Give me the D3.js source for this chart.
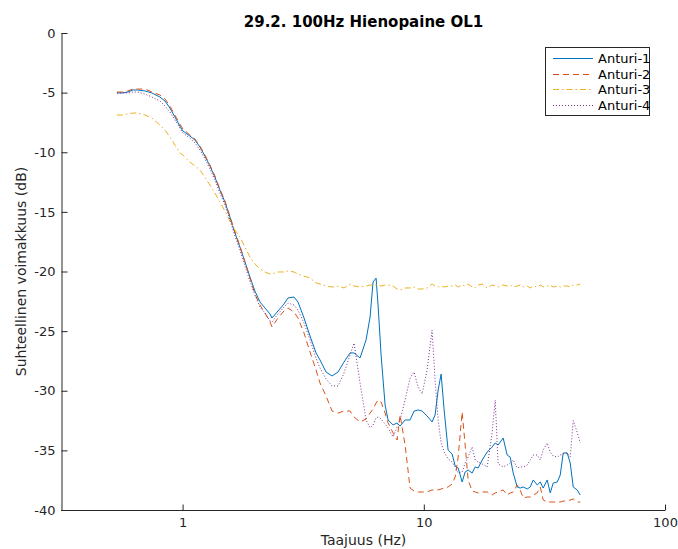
<!DOCTYPE html>
<html><head><meta charset="utf-8">
<script src="https://cdn.jsdelivr.net/npm/d3@7"></script>
<style>body{margin:0;background:#fff}svg{display:block}</style>
</head><body><svg id="c" width="678" height="549"></svg>
<script>
const titleText = "29.2. 100Hz Hienopaine OL1";
const xLabel = "Taajuus (Hz)";
const yLabel = "Suhteellinen voimakkuus (dB)";
const seriesNames = ["Anturi-1","Anturi-2","Anturi-3","Anturi-4"];
const xTicks = [1, 10, 100];
const yTicks = [0, -5, -10, -15, -20, -25, -30, -35, -40];

const freq = [0.534,0.560,0.593,0.622,0.652,0.698,0.746,0.805,0.845,0.886,
0.929,0.974,1.003,1.072,1.125,1.180,1.237,1.298,1.361,1.428,
1.498,1.571,1.648,1.729,1.814,1.902,1.995,2.093,2.195,2.303,
2.347,2.486,2.633,2.735,2.896,3.009,3.187,3.375,3.574,3.713,
3.932,4.165,4.410,4.670,4.946,5.138,5.441,5.763,5.987,6.161,
6.340,6.462,6.651,6.910,7.111,7.459,7.749,7.975,8.364,8.773,
9.117,9.471,9.838,10.32,10.82,11.14,11.47,11.80,12.14,12.61,
13.10,13.49,13.88,14.42,14.84,15.27,15.86,16.33,16.80,17.46,
18.31,19.20,19.77,20.34,21.33,22.16,22.81,23.48,24.39,25.10,
25.83,26.84,27.62,28.42,29.53,30.39,31.26,32.48,33.43,34.40,
35.74,36.79,37.84,39.32,40.46,41.64,43.26,44.52];

const anturi1 = [-5.03,-5.03,-4.95,-4.78,-4.78,-4.86,-5.03,-5.37,-5.70,-6.29,
-7.04,-7.80,-8.22,-8.64,-8.97,-9.56,-10.32,-11.15,-12.08,-13.17,
-14.17,-15.43,-16.77,-17.95,-19.20,-20.46,-21.64,-22.56,-23.06,-23.56,
-23.90,-23.31,-22.73,-22.22,-22.14,-22.56,-23.90,-25.41,-26.83,-27.42,
-28.43,-28.76,-28.43,-27.59,-26.83,-26.83,-27.25,-25.74,-23.82,-20.88,
-20.55,-22.81,-27.00,-31.19,-32.45,-32.87,-32.70,-32.96,-32.45,-32.45,
-31.70,-31.61,-31.70,-32.12,-32.62,-32.03,-29.94,-28.60,-31.61,-34.97,
-35.30,-36.31,-36.48,-37.65,-36.81,-36.65,-36.90,-36.39,-36.48,-35.81,
-35.14,-34.72,-34.38,-34.55,-33.96,-35.39,-35.56,-36.90,-38.07,-38.16,
-38.07,-38.24,-38.07,-37.48,-37.90,-37.65,-38.16,-37.48,-38.57,-37.74,
-37.65,-37.06,-35.22,-35.22,-36.06,-38.07,-38.32,-38.74];

const anturi2 = [-4.95,-4.95,-4.86,-4.70,-4.70,-4.70,-4.95,-5.20,-5.53,-6.12,
-6.88,-7.63,-8.05,-8.55,-8.89,-9.48,-10.23,-11.07,-11.99,-13.08,
-14.09,-15.35,-16.69,-17.86,-19.20,-20.55,-21.89,-22.81,-23.48,-24.23,
-24.65,-23.90,-23.31,-23.06,-23.40,-23.90,-25.16,-26.75,-28.26,-29.35,
-30.44,-31.70,-31.87,-31.70,-31.70,-32.20,-32.62,-32.37,-31.87,-31.53,
-31.03,-30.78,-30.94,-31.87,-32.70,-33.54,-34.13,-32.03,-34.55,-38.16,
-38.41,-38.49,-38.49,-38.49,-38.32,-38.32,-38.32,-38.24,-38.16,-38.07,
-37.82,-37.23,-35.56,-31.78,-34.55,-37.48,-38.41,-38.49,-38.57,-38.49,
-38.49,-38.74,-38.57,-38.49,-38.32,-38.74,-38.57,-38.49,-37.90,-38.32,
-38.99,-38.91,-38.91,-38.74,-38.57,-38.07,-39.16,-39.33,-39.33,-39.33,
-39.33,-39.33,-39.25,-39.25,-39.16,-39.08,-39.33,-39.33];

const anturi3 = [-6.88,-6.88,-6.79,-6.71,-6.71,-6.88,-7.13,-7.71,-8.14,-8.72,
-9.39,-10.06,-10.23,-10.82,-11.15,-11.49,-12.08,-12.75,-13.42,-14.17,
-14.93,-15.77,-16.52,-17.11,-17.95,-18.78,-19.37,-19.79,-20.04,-20.21,
-20.21,-20.04,-20.04,-19.96,-20.04,-20.21,-20.38,-20.55,-20.96,-21.05,
-21.22,-21.30,-21.22,-21.38,-21.05,-21.22,-21.30,-21.22,-21.13,-21.13,
-21.13,-21.13,-21.22,-21.13,-21.13,-21.22,-21.47,-21.55,-21.38,-21.38,
-21.30,-21.47,-21.47,-21.38,-21.05,-21.22,-21.30,-21.22,-21.30,-21.22,
-21.22,-21.13,-21.30,-21.13,-21.22,-21.05,-21.30,-21.38,-21.13,-21.05,
-21.38,-21.13,-21.22,-21.30,-21.13,-21.22,-21.13,-21.30,-21.22,-21.13,
-21.30,-21.22,-21.38,-21.22,-21.30,-21.13,-21.30,-21.22,-21.13,-21.30,
-21.22,-21.30,-21.22,-21.22,-21.30,-21.13,-21.13,-21.05];

const anturi4 = [-5.03,-5.03,-5.03,-4.95,-4.95,-5.12,-5.37,-5.70,-6.12,-6.62,
-7.30,-7.97,-8.39,-8.81,-9.22,-9.81,-10.55,-11.40,-12.33,-13.42,
-14.42,-15.68,-17.02,-18.20,-19.54,-20.80,-21.97,-22.98,-23.48,-24.15,
-24.23,-23.56,-22.98,-22.64,-22.81,-23.23,-24.32,-25.74,-27.25,-28.09,
-29.01,-29.60,-29.60,-28.51,-27.00,-26.00,-29.35,-32.45,-33.12,-32.87,
-32.28,-32.20,-32.37,-32.79,-33.12,-33.88,-33.04,-32.45,-30.78,-28.93,
-28.43,-29.69,-30.27,-28.26,-24.91,-29.10,-32.45,-34.38,-35.14,-35.72,
-35.98,-36.39,-36.90,-36.81,-36.06,-35.56,-34.72,-35.81,-35.98,-36.14,
-36.39,-33.50,-30.80,-36.14,-36.39,-36.23,-36.06,-35.81,-36.48,-36.39,
-36.39,-36.23,-35.81,-35.39,-35.39,-35.81,-34.97,-34.38,-35.14,-35.47,
-35.56,-35.39,-35.30,-35.22,-35.56,-32.50,-33.50,-34.38];

const seriesValues = [anturi1, anturi2, anturi3, anturi4];
const colors = ["#0072BD", "#D95319", "#EDB120", "#7E2F8E"];
const dashes = [null, "6,4", "6,3,1.5,3", "1,2"];

const W = 678, H = 549;
const m = {left: 62, right: 665, top: 33, bottom: 510};
const axisColor = "#262626";
const font = "DejaVu Sans, sans-serif";

const svg = d3.select("#c");
svg.append("rect").attr("width", W).attr("height", H).attr("fill", "#fff");

const x = d3.scaleLog().domain([Math.pow(10, -0.5), 100]).range([m.left, m.right]);
const y = d3.scaleLinear().domain([-40, 0]).range([m.bottom, m.top]);

// lines
const line = d3.line().x(d => x(d[0])).y(d => y(d[1]));
const plot = svg.append("g");
seriesValues.forEach((vals, i) => {
  const pts = freq.map((f, k) => [f, vals[k]]);
  plot.append("path")
    .attr("d", line(pts))
    .attr("fill", "none")
    .attr("stroke", colors[i])
    .attr("stroke-width", 1)
    .attr("stroke-dasharray", dashes[i])
    .attr("stroke-linejoin", "round");
});

// axes
const xAxis = d3.axisBottom(x).tickValues(xTicks).tickFormat(d3.format("d"))
  .tickSizeInner(-6).tickSizeOuter(0).tickPadding(7);
const gx = svg.append("g").attr("transform", `translate(0,${m.bottom + 0.5})`).call(xAxis);
const yAxis = d3.axisLeft(y).tickValues(yTicks).tickFormat(d => d)
  .tickSizeInner(-6).tickSizeOuter(0).tickPadding(6);
const gy = svg.append("g").attr("transform", `translate(${m.left - 0.5},0)`).call(yAxis);
[gx, gy].forEach(g => {
  g.selectAll("path.domain").attr("stroke", axisColor);
  g.selectAll(".tick line").attr("stroke", axisColor);
  g.selectAll(".tick text").attr("fill", axisColor).attr("font-size", 13).attr("font-family", font);
});
gy.select("path.domain").attr("d", `M0.5,${m.top}V${m.bottom + 0.5}`);
gx.select("path.domain").attr("d", `M${m.left - 1},0H${m.right}`);

// title & labels
svg.append("text").attr("x", (m.left + m.right) / 2).attr("y", 27)
  .attr("text-anchor", "middle").attr("font-family", font).attr("font-size", 15)
  .attr("font-weight", "bold").attr("fill", "#000").text(titleText);
svg.append("text").attr("x", (m.left + m.right) / 2).attr("y", 545)
  .attr("text-anchor", "middle").attr("font-family", font).attr("font-size", 14)
  .attr("fill", axisColor).text(xLabel);
svg.append("text").attr("transform", `translate(26,${(m.top + m.bottom) / 2}) rotate(-90)`)
  .attr("text-anchor", "middle").attr("font-family", font).attr("font-size", 14)
  .attr("fill", axisColor).text(yLabel);

// legend
const lg = svg.append("g");
lg.append("rect").attr("x", 545.5).attr("y", 47.5).attr("width", 104).attr("height", 68)
  .attr("fill", "#fff").attr("stroke", axisColor).attr("stroke-width", 1);
seriesNames.forEach((name, i) => {
  const cy = 58.5 + i * 15.5;
  const ly = Math.floor(cy) + 0.5;
  lg.append("line").attr("x1", 553).attr("x2", 593).attr("y1", ly).attr("y2", ly)
    .attr("stroke", colors[i]).attr("stroke-width", 1).attr("stroke-dasharray", dashes[i]);
  lg.append("text").attr("x", 598).attr("y", cy).attr("dy", "0.35em")
    .attr("font-family", font).attr("font-size", 13).attr("fill", "#000").text(name);
});
</script>
</body></html>
